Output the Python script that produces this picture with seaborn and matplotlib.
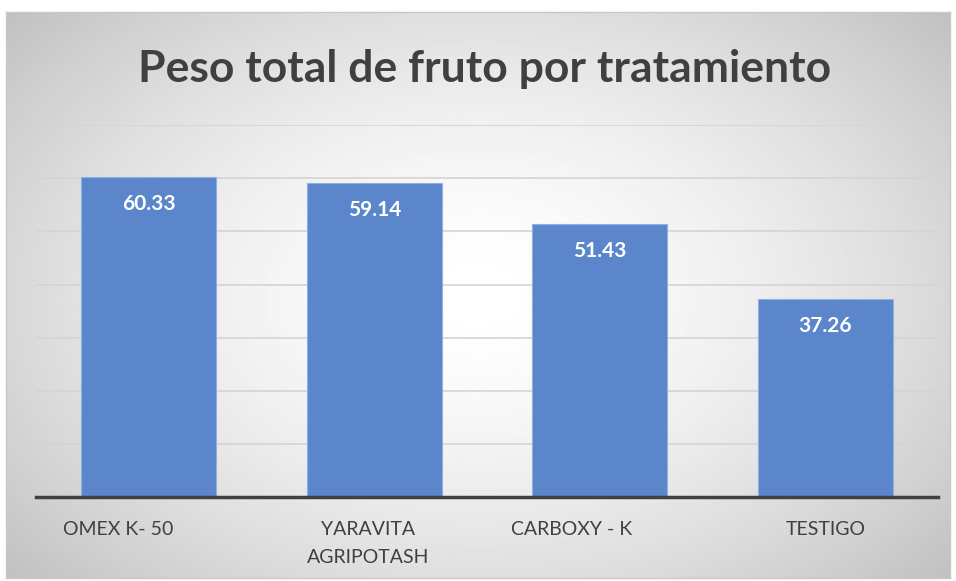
"""
Peso total de fruto por tratamiento - bar chart recreation
"""

import numpy as np
import pandas as pd
import matplotlib.pyplot as plt
import matplotlib.transforms as mtransforms
import seaborn as sns

# Data
tratamientos = ["OMEX K- 50", "YARAVITA\nAGRIPOTASH", "CARBOXY - K", "TESTIGO"]
peso_total = [60.33, 59.14, 51.43, 37.26]

df = pd.DataFrame({"tratamiento": tratamientos, "peso": peso_total})

sns.set_style("white")
plt.rcParams["font.family"] = ["Lato", "DejaVu Sans"]

fig = plt.figure(figsize=(9.56, 5.81), dpi=100)

# --- chart area background (radial gradient, white centre) ---
bg = fig.add_axes([0.0063, 0.005, 0.9874, 0.974])
yy, xx = np.mgrid[-1:1:300j, -1:1:500j]
r = np.sqrt((xx * 0.85) ** 2 + (yy * 0.75) ** 2)
shade = 1.0 - 0.2 * np.clip(r, 0, 1.3) ** 1.6
bg.imshow(shade, cmap="gray", vmin=0, vmax=1, aspect="auto", extent=[0, 1, 0, 1])
bg.set_xticks([])
bg.set_yticks([])
for s in bg.spines.values():
    s.set_color("#c8c8c8")
    s.set_linewidth(1)

# --- plot area ---
ax = fig.add_axes([0.0377, 0.1446, 0.9435, 0.640])
ax.patch.set_alpha(0)
sns.barplot(data=df, x="tratamiento", y="peso", color="#5b86cc", width=0.6,
            saturation=1, ax=ax, zorder=3)
for p in ax.patches:
    p.set_edgecolor("#8fb0e0")
    p.set_linewidth(0.8)

ax.set_ylim(0, 70)
ax.set_xlim(-0.5, 3.5)
ax.set_yticks(np.arange(10, 71, 10))
ax.yaxis.grid(True, color="#d4d4d4", linewidth=1.2, zorder=0)
ax.set_axisbelow(True)
ax.tick_params(axis="y", left=False, labelleft=False)
ax.tick_params(axis="x", bottom=False, pad=14)
ax.set_xticks(range(len(tratamientos)))
ax.set_xticklabels(tratamientos, fontsize=14, color="#404040", linespacing=1.75)
ax.set_xlabel("")
ax.set_ylabel("")
for s in ["top", "right", "left"]:
    ax.spines[s].set_visible(False)
ax.spines["bottom"].set_color("#404040")
ax.spines["bottom"].set_linewidth(2.5)
ax.spines["bottom"].set_zorder(4)

# labels in the original sit a bit left of the bar centres
shifts_px = [-31, -6, -28, 0]
for lbl, dx in zip(ax.get_xticklabels(), shifts_px):
    off = mtransforms.ScaledTranslation(dx / 100, 0, fig.dpi_scale_trans)
    lbl.set_transform(lbl.get_transform() + off)

# value labels inside bars
for i, v in enumerate(peso_total):
    ax.annotate(f"{v:.2f}", (i, v), xytext=(0, -19.5), textcoords="offset points",
                ha="center", va="center", color="white", fontsize=15,
                fontweight="bold", zorder=5)

fig.text(0.507, 0.881, "Peso total de fruto por tratamiento", ha="center", va="center",
         fontsize=32, fontweight="bold", color="#404040")

fig.savefig("out.png", dpi=100)
